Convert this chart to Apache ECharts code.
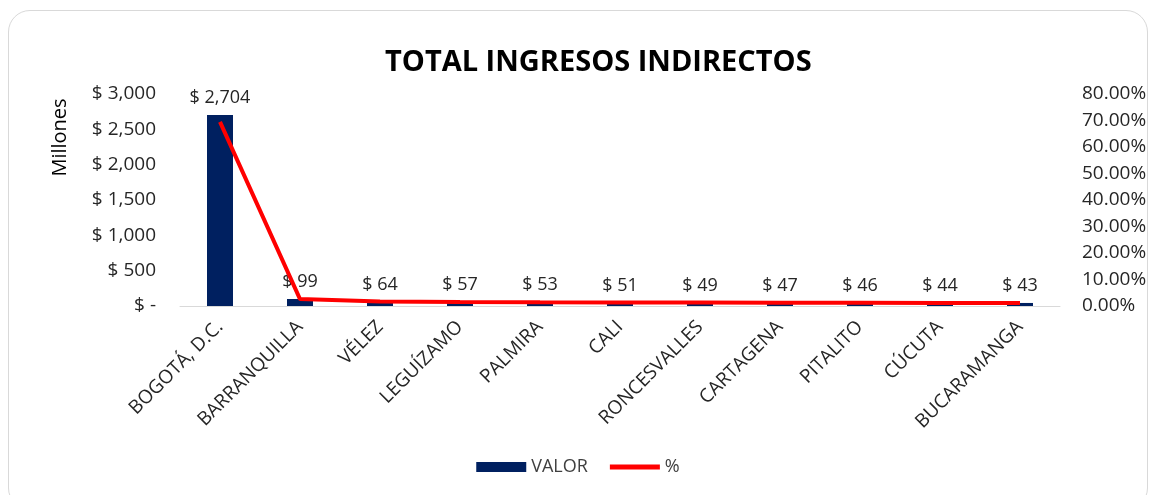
<!DOCTYPE html>
<html>
<head>
<meta charset="utf-8">
<script src="https://cdn.jsdelivr.net/npm/echarts@6/dist/echarts.min.js"></script>
<style>
    html, body { margin: 0; padding: 0; background: #fff; }
    .card {
        position: absolute; left: 8px; top: 10px; width: 1140px; height: 500px;
        border: 1.5px solid #d9d9d9; border-radius: 22px; box-sizing: border-box;
    }
    #main { position: absolute; left: 0; top: 0; width: 1156px; height: 495px; }
</style>
</head>
<body>
<div class="card"></div>
<div id="main"></div>
<script>
// 城市
const cities = ['BOGOTÁ, D.C.', 'BARRANQUILLA', 'VÉLEZ', 'LEGUÍZAMO', 'PALMIRA', 'CALI',
    'RONCESVALLES', 'CARTAGENA', 'PITALITO', 'CÚCUTA', 'BUCARAMANGA'];
// 金额（百万）
const valores = [2704, 99, 64, 57, 53, 51, 49, 47, 46, 44, 43];
// 百分比 (%)
const porcentajes = [69.5, 2.6, 1.7, 1.5, 1.4, 1.35, 1.3, 1.2, 1.2, 1.15, 1.1];

const fontFam = "'Open Sans', 'Noto Sans', sans-serif";

const chart = echarts.init(document.getElementById('main'));
chart.setOption({
    animation: false,
    title: {
        text: 'TOTAL INGRESOS INDIRECTOS',
        left: 380,
        top: 43,
        textStyle: { fontSize: 29, fontWeight: 'bold', color: '#000', fontFamily: fontFam }
    },
    legend: {
        bottom: 14,
        left: 'center',
        itemGap: 22,
        textStyle: { fontSize: 18, color: '#404040', fontFamily: fontFam },
        data: [
            { name: 'VALOR', icon: 'rect', itemStyle: { color: '#002060' } },
            { name: '%', icon: 'path://M0,0 L60,0 L60,6 L0,6 Z' }
        ],
        itemWidth: 50,
        itemHeight: 10
    },
    grid: { left: 180, right: 96, top: 94, bottom: 189 },
    xAxis: {
        type: 'category',
        data: cities,
        axisLine: { lineStyle: { color: '#d9d9d9' } },
        axisTick: { show: false },
        axisLabel: {
            rotate: 45, interval: 0, margin: 18,
            fontSize: 19, color: '#262626', fontFamily: fontFam
        }
    },
    yAxis: [{
        type: 'value',
        min: 0, max: 3000, interval: 500,
        name: 'Millones',
        nameLocation: 'middle',
        nameRotate: 90,
        nameGap: 110,
        nameTextStyle: { fontSize: 20, color: '#000', fontFamily: fontFam, padding: [0, 0, 0, 125] },
        splitLine: { show: false },
        axisLine: { show: false },
        axisTick: { show: false },
        axisLabel: {
            fontSize: 19, color: '#262626', fontFamily: fontFam, margin: 24,
            formatter: v => v === 0 ? '$ -' : '$ ' + v.toLocaleString('en-US')
        }
    }, {
        type: 'value',
        min: 0, max: 80, interval: 10,
        splitLine: { show: false },
        axisLine: { show: false },
        axisTick: { show: false },
        axisLabel: {
            fontSize: 19, color: '#262626', fontFamily: fontFam, margin: 22,
            formatter: v => v.toFixed(2) + '%'
        }
    }],
    series: [{
        name: 'VALOR',
        type: 'bar',
        data: valores,
        barWidth: 26,
        itemStyle: { color: '#002060' },
        label: {
            show: true, position: 'top', distance: 8,
            fontSize: 18, color: '#262626', fontFamily: fontFam,
            formatter: p => '$ ' + p.value.toLocaleString('en-US')
        }
    }, {
        name: '%',
        type: 'line',
        yAxisIndex: 1,
        data: porcentajes,
        symbol: 'none',
        lineStyle: { color: '#ff0000', width: 4 },
        itemStyle: { color: '#ff0000' }
    }]
});
</script>
</body>
</html>
